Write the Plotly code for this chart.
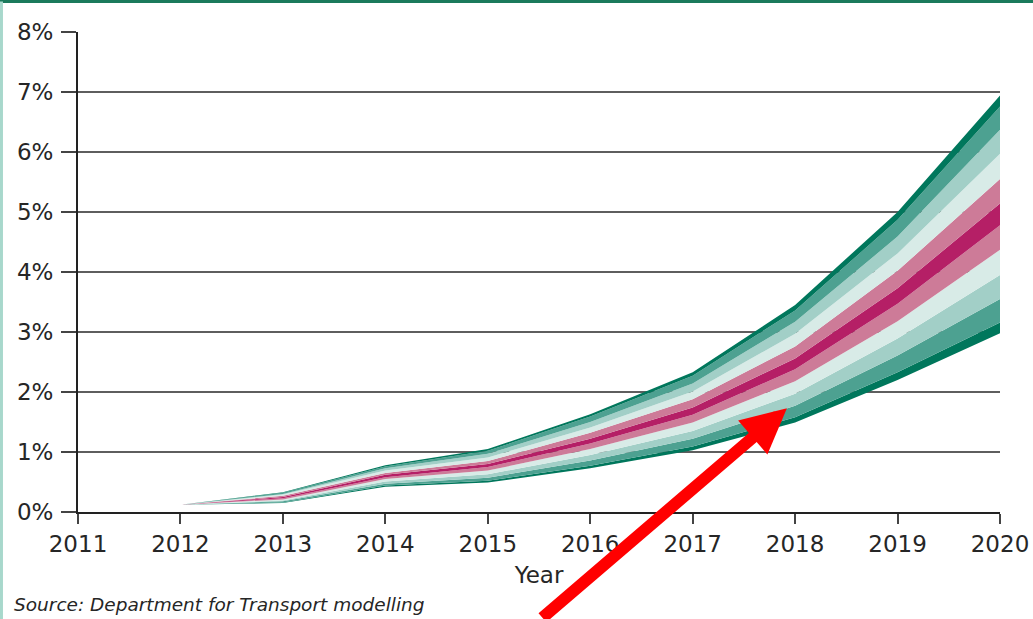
import plotly.graph_objects as go

# Fan chart values (% per year), boundaries from bottom to top
years = [2012, 2013, 2014, 2015, 2016, 2017, 2018, 2019, 2020]

b00 = [0.12, 0.15, 0.42, 0.49, 0.73, 1.03, 1.49, 2.20, 2.98]
b01 = [0.12, 0.16, 0.44, 0.52, 0.77, 1.09, 1.58, 2.33, 3.16]
b02 = [0.12, 0.18, 0.47, 0.57, 0.86, 1.22, 1.77, 2.61, 3.55]
b03 = [0.12, 0.19, 0.51, 0.63, 0.95, 1.35, 1.97, 2.89, 3.95]
b04 = [0.12, 0.21, 0.55, 0.69, 1.05, 1.49, 2.18, 3.18, 4.37]
b05 = [0.12, 0.23, 0.58, 0.75, 1.14, 1.62, 2.38, 3.47, 4.78]
b06 = [0.12, 0.25, 0.62, 0.80, 1.22, 1.74, 2.56, 3.73, 5.14]
b07 = [0.12, 0.27, 0.65, 0.85, 1.32, 1.88, 2.76, 4.02, 5.55]
b08 = [0.12, 0.29, 0.69, 0.91, 1.41, 2.01, 2.97, 4.31, 5.97]
b09 = [0.12, 0.30, 0.73, 0.97, 1.50, 2.14, 3.17, 4.59, 6.37]
b10 = [0.12, 0.32, 0.76, 1.02, 1.59, 2.27, 3.36, 4.87, 6.76]
b11 = [0.12, 0.33, 0.78, 1.05, 1.63, 2.33, 3.45, 5.00, 6.94]

boundaries = [b00, b01, b02, b03, b04, b05, b06, b07, b08, b09, b10, b11]

dark = "#00775c"
med = "#4da191"
light = "#a2cfc7"
vlight = "#d8ebe7"
pink = "#cd7b98"
magenta = "#b51f66"
band_colors = [dark, med, light, vlight, pink, magenta, pink, vlight, light, med, dark]

fig = go.Figure()

# bottom boundary (no fill), then each band fills to the previous trace
fig.add_trace(go.Scatter(x=years, y=boundaries[0], mode="lines",
                         line=dict(width=0, color=dark), showlegend=False,
                         hoverinfo="skip"))
for i, col in enumerate(band_colors):
    fig.add_trace(go.Scatter(x=years, y=boundaries[i + 1], mode="lines",
                             line=dict(width=0, color=col), fill="tonexty",
                             fillcolor=col, showlegend=False, hoverinfo="skip"))

font = "DejaVu Sans, Arial, sans-serif"

fig.update_xaxes(range=[2011, 2020], dtick=1, showgrid=False, automargin=False,
                 showline=True, linecolor="#222", linewidth=2,
                 ticks="outside", ticklen=10, tickwidth=2, tickcolor="#444",
                 tickfont=dict(family=font, size=23, color="#262626"),
                 title=dict(text="Year", font=dict(family=font, size=23, color="#262626"),
                            standoff=11),
                 zeroline=False)
fig.update_yaxes(range=[0, 8], dtick=1, ticksuffix="%", automargin=False,
                 showgrid=True, gridcolor="#5e5e5e", gridwidth=1.6,
                 showline=True, linecolor="#222", linewidth=2,
                 ticks="outside", ticklen=15, tickwidth=1.6, tickcolor="#444",
                 ticklabelstandoff=3,
                 tickfont=dict(family=font, size=23, color="#262626"),
                 zeroline=False)

# source note
fig.add_annotation(text="<i>Source: Department for Transport modelling</i>",
                   xref="paper", yref="paper", x=-0.0716, y=-0.192,
                   xanchor="left", yanchor="middle", showarrow=False,
                   font=dict(family=font, size=18.5, color="#262626"))

# red arrow pointing at the lower part of the fan
fig.add_annotation(x=2017.92, y=1.73, xref="x", yref="y", text="",
                   showarrow=True, arrowhead=2, arrowsize=0.75, arrowwidth=12,
                   arrowcolor="#ff0000", ax=-246, ay=211)

# page border lines
fig.add_shape(type="line", xref="paper", yref="paper",
              x0=-0.09, x1=1.04, y0=1.0635, y1=1.0635,
              line=dict(color="#1b7a5c", width=3))
fig.add_shape(type="line", xref="paper", yref="paper",
              x0=-0.0830, x1=-0.0830, y0=-0.23, y1=1.0635,
              line=dict(color="#a8d8cc", width=3))

fig.update_layout(width=1033, height=619,
                  margin=dict(l=78, r=33, t=32, b=107),
                  plot_bgcolor="white", paper_bgcolor="white")

# drop the default page margin so the figure sits at the window corner
fig.write_html("out.html", config={"displayModeBar": False},
               post_script="document.body.style.margin='0px';")
